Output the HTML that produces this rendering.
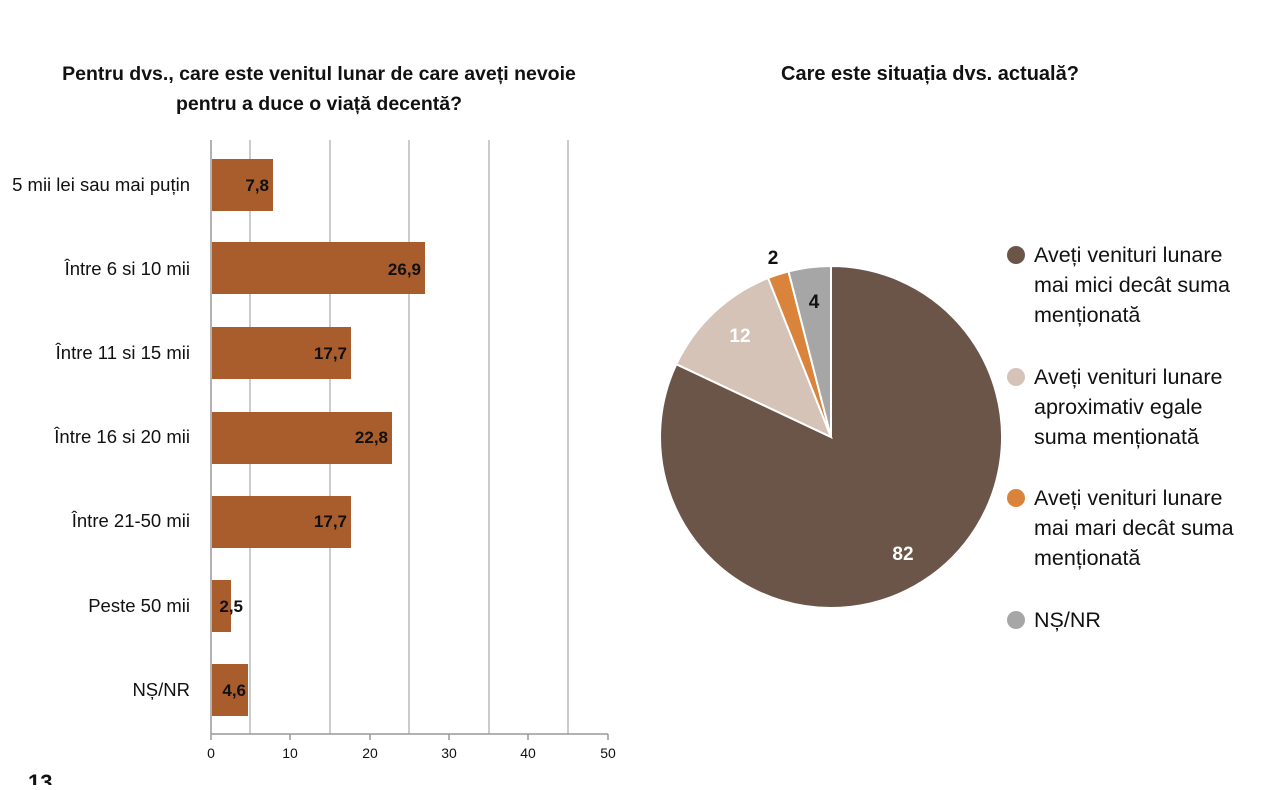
<!DOCTYPE html>
<html><head><meta charset="utf-8"><style>
body{margin:0;background:#fff}
text{font-family:"Liberation Sans",sans-serif}
</style></head><body>
<svg width="1280" height="785" viewBox="0 0 1280 785" xmlns="http://www.w3.org/2000/svg">
<g font-weight="bold" fill="#111" text-anchor="middle">
<text x="319" y="80" font-size="19.5">Pentru dvs., care este venitul lunar de care aveți nevoie</text>
<text x="319" y="110" font-size="19.5">pentru a duce o viață decentă?</text>
<text x="930" y="80" font-size="20">Care este situația dvs. actuală?</text>
</g>
<g stroke="#bbb" stroke-width="1.5">
<line x1="250" y1="140" x2="250" y2="734"/><line x1="330" y1="140" x2="330" y2="734"/>
<line x1="409" y1="140" x2="409" y2="734"/><line x1="489" y1="140" x2="489" y2="734"/>
<line x1="568" y1="140" x2="568" y2="734"/>
</g>
<g stroke="#999" stroke-width="1.5">
<line x1="211" y1="140" x2="211" y2="740"/><line x1="211" y1="734" x2="608" y2="734"/>
<line x1="290" y1="734" x2="290" y2="740"/><line x1="370" y1="734" x2="370" y2="740"/>
<line x1="449" y1="734" x2="449" y2="740"/><line x1="528" y1="734" x2="528" y2="740"/>
<line x1="608" y1="734" x2="608" y2="740"/>
</g>
<g fill="#a95c2c">
<rect x="212" y="159" width="61" height="52"/>
<rect x="212" y="242" width="213" height="52"/>
<rect x="212" y="327" width="139" height="52"/>
<rect x="212" y="412" width="180" height="52"/>
<rect x="212" y="496" width="139" height="52"/>
<rect x="212" y="580" width="19" height="52"/>
<rect x="212" y="664" width="36" height="52"/>
</g>
<g font-weight="bold" font-size="17" fill="#111" text-anchor="end">
<text x="269" y="191">7,8</text><text x="421" y="275">26,9</text>
<text x="347" y="359">17,7</text><text x="388" y="443">22,8</text>
<text x="347" y="527">17,7</text><text x="243" y="612">2,5</text>
<text x="246" y="696">4,6</text>
</g>
<g font-size="18.5" fill="#111" text-anchor="end">
<text x="190" y="191">5 mii lei sau mai puțin</text>
<text x="190" y="275">Între 6 si 10 mii</text>
<text x="190" y="359">Între 11 si 15 mii</text>
<text x="190" y="443">Între 16 si 20 mii</text>
<text x="190" y="527">Între 21-50 mii</text>
<text x="190" y="612">Peste 50 mii</text>
<text x="190" y="696">NȘ/NR</text>
</g>
<g font-size="14" fill="#111" text-anchor="middle">
<text x="211" y="758">0</text><text x="290" y="758">10</text><text x="370" y="758">20</text>
<text x="449" y="758">30</text><text x="528" y="758">40</text><text x="608" y="758">50</text>
</g>
<text x="28" y="790" font-weight="bold" font-size="22" fill="#111">13</text>
<g stroke="#fff" stroke-width="2">
<path d="M831,437 L831,266 A171,171 0 1 1 676.3,364.2 Z" fill="#6b5549"/>
<path d="M831,437 L676.3,364.2 A171,171 0 0 1 768.1,278 Z" fill="#d5c3b8"/>
<path d="M831,437 L768.1,278 A171,171 0 0 1 788.5,271.4 Z" fill="#d9843a"/>
<path d="M831,437 L788.5,271.4 A171,171 0 0 1 831,266 Z" fill="#a6a6a6"/>
</g>
<g font-weight="bold" font-size="19" text-anchor="middle">
<text x="903" y="560" fill="#fff">82</text>
<text x="740" y="342" fill="#fff">12</text>
<text x="773" y="264" fill="#111">2</text>
<text x="814" y="308" fill="#111">4</text>
</g>
<circle cx="1016" cy="255" r="9" fill="#6b5549"/>
<circle cx="1016" cy="377" r="9" fill="#d5c3b8"/>
<circle cx="1016" cy="498" r="9" fill="#d9843a"/>
<circle cx="1016" cy="620" r="9" fill="#a6a6a6"/>
<g font-size="21.5" fill="#111">
<text x="1034" y="262">Aveți venituri lunare</text>
<text x="1034" y="292">mai mici decât suma</text>
<text x="1034" y="322">menționată</text>
<text x="1034" y="384">Aveți venituri lunare</text>
<text x="1034" y="414">aproximativ egale</text>
<text x="1034" y="444">suma menționată</text>
<text x="1034" y="505">Aveți venituri lunare</text>
<text x="1034" y="535">mai mari decât suma</text>
<text x="1034" y="565">menționată</text>
<text x="1034" y="627">NȘ/NR</text>
</g>
</svg>
</body></html>
